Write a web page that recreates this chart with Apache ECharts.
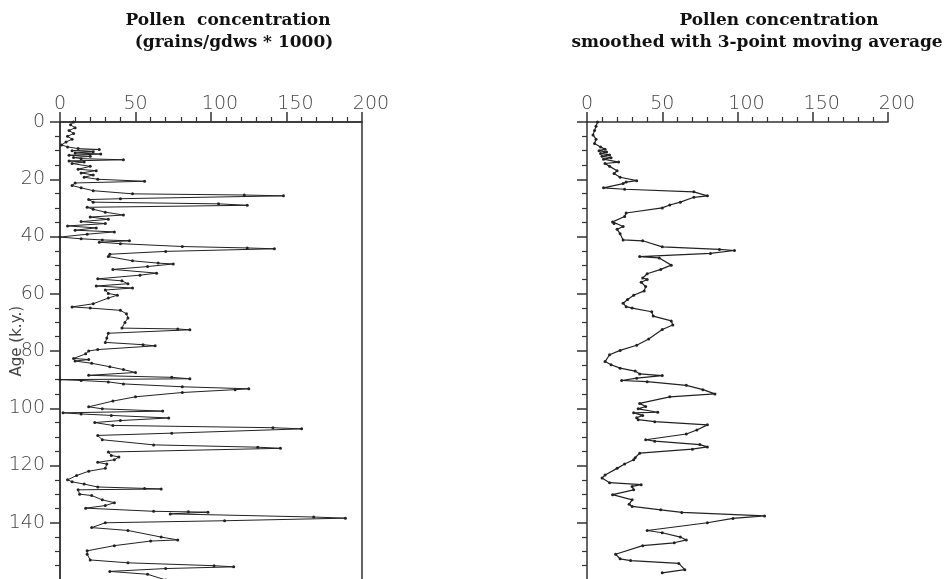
<!DOCTYPE html>
<html>
<head>
<meta charset="utf-8">
<script src="https://cdn.jsdelivr.net/npm/echarts@6/dist/echarts.min.js"></script>
<style>
html,body{margin:0;padding:0;background:#fff;}
#chart{width:948px;height:579px;}
</style>
</head>
<body>
<div id="chart"></div>
<script>
// Raw pollen concentration (grains/gdws * 1000) by age (k.y.)
var rawAge = [0,1,2,3,4,5,6,7,8,8.7,9.3,9.6,10,10.4,10.8,11.2,11.6,12,12.4,12.8,13.2,13.6,14,14.5,15.5,16.5,17,17.8,18.5,19.3,20,20.7,21.3,22.2,23,24,25.1,25.5,25.8,26.8,27.1,28,28.6,29.1,29.8,30.5,31.5,32.5,33.2,34,34.8,35.5,36.3,37,37.8,38.4,39.2,40.2,40.8,41.2,41.5,42,42.5,43.5,44,44.3,45.2,46.2,47,48.5,49.3,49.6,50.5,51.5,52.8,53.5,54.8,55.5,56.5,57.3,58,58.7,59.9,60.5,61.5,63.5,64.6,65,65.8,67,68.5,70,72,72.3,72.6,73.8,75.5,77,77.8,78.2,79.5,80,81,82.6,83,83.5,84.3,85.5,86.5,87.5,88.5,89.2,89.7,90,90.3,90.8,91.5,92.5,93.2,93.5,94.5,96,97.5,99.5,100.2,101,101.6,102,102.5,103.4,104.3,105,106,106.8,107.2,108.7,109.5,111,112.8,113.6,114,115.3,116.5,117,118,118.9,119.5,121,122,123.5,125,125.7,126.5,127.5,128,128.2,128.5,130,130.5,132,133,134,134.9,136,136.2,136.3,136.9,138,138.4,139.3,140,141.7,142.7,145,146,146.4,148,149.8,151,153,154,155,155.4,156,157,158,160];
var rawValue = [9,7,10,6,9,5,8,4,1,5,12,26,8,22,10,27,6,20,9,14,42,6,16,8,20,12,24,14,22,16,25,56,10,8,14,22,48,122,148,40,19,22,105,124,18,22,30,42,20,32,14,30,5,24,10,36,18,0,14,28,46,26,40,81,124,142,70,33,32,48,65,75,58,35,64,53,25,41,45,24,48,30,32,38,32,22,8,20,40,44,45,43,41,78,86,32,31,30,55,63,25,19,17,9,19,10,21,33,42,50,19,74,86,0,14,32,42,81,125,116,81,50,35,19,28,68,2,14,34,72,40,23,35,141,160,74,25,28,62,131,146,32,34,39,36,25,31,30,19,11,5,8,16,25,56,67,12,13,21,28,36,30,17,62,85,98,73,168,189,109,30,21,45,67,78,60,36,18,18,20,45,102,115,70,33,58,70];

// Smoothed (3-point moving average)
var smoothAge = [0,1.5,3,4.5,6,7.5,8.7,9.5,10,10.5,11,11.5,12,12.5,13,14,14.5,15.5,17,18,19.3,20.5,21,21.5,23,23.5,24.4,25.8,26.3,28,29,30,31.8,33,34.9,35.5,36.5,37.5,39,41.2,41.5,43.6,44.5,44.9,45.9,47,47.5,50,51.5,53,54.5,55,56,57.5,59,60.5,62,63.3,64.5,65,66.3,67.8,69.5,70.9,72.5,75.8,78,79.8,81.3,83.7,84.8,86,87,88,88.6,89.5,90.3,90.7,92,93.5,95,96,98.3,99.4,100.2,101.4,101.6,102.5,103.3,104,104.7,105.8,107.6,109,111,111.5,112.7,113.5,114.3,115.7,117.3,118,119.5,121,123.3,124.4,126,126.7,127.3,128.5,130.2,132,133.5,134.3,135.5,136.4,137.6,138.5,140,142.7,143.5,145,146,147,148,151,152.6,153.2,154.2,156.4,157.5];
var smoothValue = [7,6,5,4,6,5,9,12,8,13,9,15,10,16,11,21,12,15,20,18,22,33,26,24,11,25,71,80,71,62,55,50,26,25,17,18,24,20,22,24,37,50,88,98,82,35,48,56,49,40,37,40,36,39,38,31,27,24,26,30,43,44,56,57,50,41,33,22,15,12,16,22,32,35,50,33,23,40,66,77,85,55,35,39,34,47,31,37,33,34,45,80,73,66,39,45,75,80,70,35,32,31,25,20,12,10,15,36,30,31,17,30,28,30,49,63,118,97,80,40,50,62,66,58,37,19,22,29,61,65,50];

var xTickValues = [0,50,100,150,200];
var yTickValues = [0,20,40,60,80,100,120,140,160];

var chart = echarts.init(document.getElementById('chart'), null, {renderer:'canvas'});

var axisColor = '#333';
var labelStyle = {fontFamily:'DejaVu Sans', fontWeight:200, fontSize:19, color:'#444'};

function xAxisFor(gridIndex){
  return {
    gridIndex: gridIndex, type:'value', position:'top',
    min: xTickValues[0], max: xTickValues[xTickValues.length-1], interval: 50,
    axisLine:{show:true, lineStyle:{color:axisColor, width:1.5}},
    axisTick:{show:true, inside:false, length:10, lineStyle:{color:axisColor, width:1.5}},
    minorTick:{show:true, splitNumber:5, length:5, lineStyle:{color:axisColor, width:1.2}},
    splitLine:{show:false},
    axisLabel:{
      show:true, margin:8,
      fontFamily:labelStyle.fontFamily, fontWeight:labelStyle.fontWeight, fontSize:labelStyle.fontSize, color:labelStyle.color,
      formatter:function(v){ return v>=100 ? '{s|'+v+'}' : String(v); },
      rich:{ s:{padding:[0,0,0,18], fontFamily:labelStyle.fontFamily, fontWeight:labelStyle.fontWeight, fontSize:labelStyle.fontSize, color:labelStyle.color} }
    }
  };
}
function yAxisFor(gridIndex, showLabels){
  return {
    gridIndex: gridIndex, type:'value', inverse:true,
    min: yTickValues[0], max: yTickValues[yTickValues.length-1], interval: 20,
    axisLine:{show:true, lineStyle:{color:axisColor, width:1.5}},
    axisTick:{show:true, inside:false, length:10, lineStyle:{color:axisColor, width:1.5}},
    minorTick:{show:true, splitNumber:4, length:5, lineStyle:{color:axisColor, width:1.2}},
    splitLine:{show:false},
    axisLabel:{show:showLabels, showMaxLabel:false, margin:15, fontFamily:labelStyle.fontFamily, fontWeight:labelStyle.fontWeight, fontSize:labelStyle.fontSize, color:labelStyle.color}
  };
}

var titleFont = {fontFamily:'DejaVu Serif', fontWeight:'bold', fontSize:17, color:'#111'};

var option = {
  backgroundColor:'#fff',
  animation:false,
  title:[
    {text:'Pollen  concentration', left:223, top:7, textAlign:'center', textStyle:titleFont},
    {text:'(grains/gdws * 1000)', left:229, top:29, textAlign:'center', textStyle:titleFont},
    {text:'Pollen concentration', left:774, top:7, textAlign:'center', textStyle:titleFont},
    {text:'smoothed with 3-point moving average', left:752, top:29, textAlign:'center', textStyle:titleFont}
  ],
  graphic:[
    {type:'text', left:10, top:306, rotation:Math.PI/2, style:{text:'Age (k.y.)', fontFamily:'DejaVu Sans', fontSize:15, fill:'#444'}}
  ],
  grid:[
    {left:60, top:122, width:302, height:458, outerBoundsMode:'none', containLabel:false, show:true, borderColor:axisColor, borderWidth:1.5, backgroundColor:'transparent'},
    {left:587, top:122, width:301, height:458, outerBoundsMode:'none', containLabel:false}
  ],
  xAxis:[xAxisFor(0), xAxisFor(1)],
  yAxis:[yAxisFor(0,true), yAxisFor(1,false)],
  series:[
    {
      type:'line', xAxisIndex:0, yAxisIndex:0,
      data: rawAge.map(function(a,i){ return [rawValue[i], a]; }),
      lineStyle:{color:'#222', width:1},
      itemStyle:{color:'#222'},
      symbol:'circle', symbolSize:3, showSymbol:true, clip:true
    },
    {
      type:'line', xAxisIndex:1, yAxisIndex:1,
      data: smoothAge.map(function(a,i){ return [smoothValue[i], a]; }),
      lineStyle:{color:'#222', width:1.2},
      itemStyle:{color:'#222'},
      symbol:'circle', symbolSize:3, showSymbol:true, clip:true
    }
  ]
};
chart.setOption(option);
</script>
</body>
</html>
